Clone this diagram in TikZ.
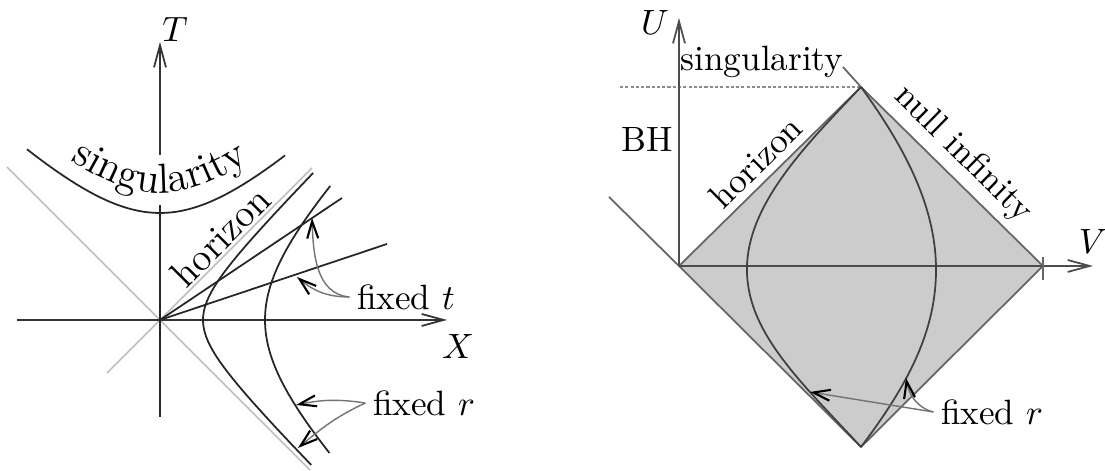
\documentclass[tikz,border=0pt]{standalone}
\usepackage{amsmath}
\usetikzlibrary{arrows.meta, positioning, calc, decorations.text}

\begin{document}
\begin{tikzpicture}[x=0.01cm, y=0.01cm, every node/.style={font=\normalsize}]
    \tikzset{worldline/.style={draw=black!85, line width=0.5pt},
             lightcone/.style={draw=black!25, line width=0.45pt},
             axisline/.style={draw=black!80, line width=0.5pt,
                              -{Straight Barb[length=2.2mm, width=1.2mm]}},
             pointer/.style={draw=black!55, line width=0.4pt,
                             -{Straight Barb[length=1.7mm, width=1.1mm, line width=0.6pt, color=black]}},
             penedge/.style={draw=black!60, line width=0.5pt},
             penline/.style={draw=black!75, line width=0.5pt},
             bigtext/.style={font=\fontsize{11}{13}\selectfont}}
    \useasboundingbox (0,0) rectangle (1105,471);

    % Kruskal diagram
    \begin{scope}[shift={(160,151)}]
      \coordinate (O) at (0,0);
      \draw[lightcone] (-153,153) -- (150,-150);
      \draw[lightcone] (-53,-53) -- node[pos=0.61, sloped, above, inner sep=0.5pt, bigtext] (hor) {horizon} (152,152);
      \draw[axisline] (-143,0) -- (287,0);
      \draw[worldline] (0,-97) -- (0,115);
      \draw[axisline] (0,165) -- (0,278);
      \node (Tlab) at (15,290) {$T$};
      \node (Xlab) at (298,-27) {$X$};
      % singularity
      \draw[worldline] plot[domain=-13.3:12.5, samples=60] ({10*\x}, {10*sqrt(\x*\x+114.49)});
      \path[decorate, decoration={text along path, text align=center,
            text={|\fontsize{12}{14}\selectfont|singularity}}]
        plot[domain=-11:11, samples=60] ({10*\x}, {10*sqrt(\x*\x+114.49)+20});
      % fixed r and fixed t
      \draw[worldline] plot[domain=-14.5:14.7, samples=60] ({10*sqrt(\x*\x+18.49)}, {10*\x});
      \draw[worldline] plot[domain=-13.3:13.4, samples=60] ({10*sqrt(\x*\x+110.25)}, {10*\x});
      \foreach \e in {(182,122), (227,76)}
        \draw[worldline] (O) -- \e;
      \coordinate (tA) at (152,102);
      \coordinate (tB) at (137,43);
      \coordinate (rA) at (136,-85);
      \coordinate (rB) at (138,-128);
      \node[inner sep=2pt] (fixt) at (246,23) {fixed $t$};
      \node[inner sep=2pt] (fixr) at (264,-83) {fixed $r$};
      \draw[pointer] (fixt.west) to[out=175, in=-88] (tA);
      \draw[pointer] (fixt.west) to[out=180, in=-40] (tB);
      \draw[pointer] (fixr.west) to[bend right=10] (rA);
      \draw[pointer] (fixr.west) to[out=205, in=40] (rB);
    \end{scope}

    % Penrose diagram
    \coordinate (L) at (679,205);
    \coordinate (Tp) at (861,384);
    \coordinate (R) at (1043,205);
    \coordinate (B) at (861,24);
    \fill[gray!40] (L) -- (Tp) -- (R) -- (B) -- cycle;
    \draw[penedge, black!45, dash pattern=on 0.9pt off 0.6pt] (620,384) -- (Tp);
    \draw[penedge] (609,274) -- (L) -- (B) -- (R);
    \draw[penedge] (L) -- node[sloped, above, inner sep=2pt] (hor2) {horizon} (Tp);
    \draw[penedge] (843,404) -- (Tp) -- node[pos=0.47, sloped, above, inner sep=2pt] (scri) {null infinity} (R);
    \draw[axisline, black!70] (L) -- (679,453);
    \draw[axisline, black!70] (L) -- (1093,205);
    \draw[penedge] (1043,191) -- (1043,214);
    \node (Ulab) at (655,448) {$U$};
    \node (Vlab) at (1093,229) {$V$};
    \node (sing) at (762,409) {singularity};
    \node (bh) at (647,331) {BH};
    \draw[penline] (B) .. controls (800,90) and (745,140) .. (747,205)
                       .. controls (749,270) and (810,330) .. (Tp);
    \draw[penline] (B) .. controls (907,85) and (937,140) .. (936,204)
                       .. controls (935,270) and (900,330) .. (Tp);
    \coordinate (pA) at (810,79);
    \coordinate (pB) at (906,93);
    \node[inner sep=2pt] (fixR) at (992,59) {fixed $r$};
    \draw[pointer] (fixR.west) -- (pA);
    \draw[pointer] (fixR.west) to[out=165, in=-80] (pB);
\end{tikzpicture}
\end{document}
